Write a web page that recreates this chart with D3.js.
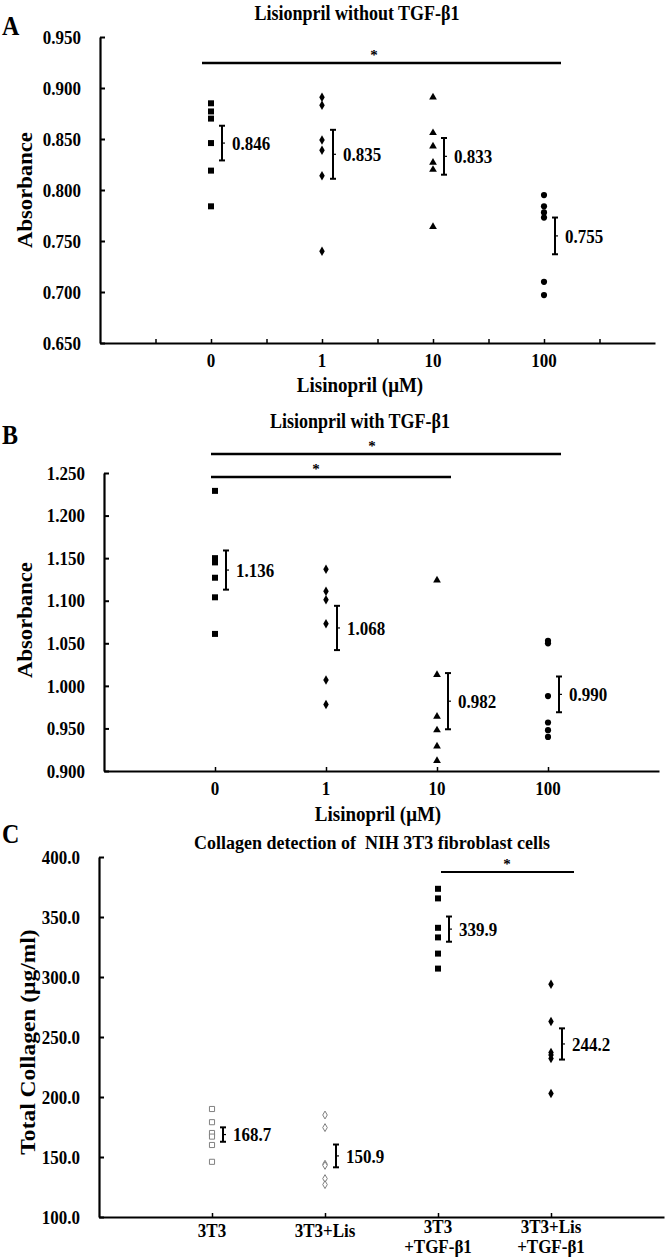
<!DOCTYPE html>
<html>
<head>
<meta charset="utf-8">
<script src="https://cdn.jsdelivr.net/npm/d3@7/dist/d3.min.js"></script>
<style>
  body { margin: 0; background: #fff; }
  text { font-family: "Liberation Serif", "Times New Roman", serif; font-weight: bold; fill: #000; }
</style>
</head>
<body>
<svg id="fig" width="666" height="1259"></svg>
<script>
// ---- data ----
const doseLabels = ["0", "1", "10", "100"];

const aPoints = [
  [0.885, 0.877, 0.870, 0.846, 0.819, 0.784],
  [0.891, 0.883, 0.849, 0.839, 0.814, 0.740],
  [0.891, 0.856, 0.843, 0.827, 0.820, 0.764],
  [0.795, 0.784, 0.778, 0.773, 0.710, 0.697]
];
const aMeans = [0.846, 0.835, 0.833, 0.755];
const aSem = [0.017, 0.024, 0.018, 0.018];
const aTicks = [0.65, 0.70, 0.75, 0.80, 0.85, 0.90, 0.95];

const bPoints = [
  [1.229, 1.150, 1.145, 1.127, 1.104, 1.061],
  [1.137, 1.111, 1.101, 1.073, 1.007, 0.978],
  [1.124, 1.013, 0.964, 0.948, 0.929, 0.912],
  [1.053, 1.050, 0.988, 0.957, 0.948, 0.940]
];
const bMeans = [1.136, 1.068, 0.982, 0.990];
const bSem = [0.023, 0.026, 0.033, 0.021];
const bTicks = [0.90, 0.95, 1.00, 1.05, 1.10, 1.15, 1.20, 1.25];

const cGroups = [["3T3"], ["3T3+Lis"], ["3T3", "+TGF-β1"], ["3T3+Lis", "+TGF-β1"]];
const cPoints = [
  [190, 179, 170, 167, 160, 146],
  [185, 174.5, 144, 143, 132, 127],
  [373.5, 365.5, 341, 333, 319.5, 307],
  [294, 263, 237, 235, 232, 203]
];
const cMeans = [168.7, 150.9, 339.9, 244.2];
const cSem = [6, 9.5, 10.5, 13];
const cTicks = [100, 150, 200, 250, 300, 350, 400];

const svg = d3.select("#fig");

// stretched text, like the original figure
function label(g, x, y, s, size, anchor = "middle", sy = 1.15) {
  return g.append("text")
    .attr("transform", `translate(${x},${y}) scale(1,${sy})`)
    .attr("text-anchor", anchor)
    .attr("dy", "0.35em")
    .style("font-size", size + "px")
    .style("white-space", "pre")
    .text(s);
}

function vlabel(g, x, y, s, size, sx) {
  return g.append("text")
    .attr("transform", `translate(${x},${y}) rotate(-90) scale(${sx},1)`)
    .attr("text-anchor", "middle").attr("dy", "0.35em")
    .style("font-size", size + "px").text(s);
}

function marker(kind, open) {
  if (kind === "circle") return d3.symbol(d3.symbolCircle, 30)();
  if (kind === "triangle") return d3.symbol(d3.symbolTriangle, 26)();
  if (kind === "diamond") return d3.symbol(d3.symbolDiamond, open ? 18 : 26)();
  return d3.symbol(d3.symbolSquare, open ? 26 : 36)();
}

function yAxis(g, y, ticks, fmt, x0) {
  const ax = g.append("g")
    .attr("transform", `translate(${x0},0)`)
    .call(d3.axisLeft(y).tickValues(ticks).tickFormat(d3.format(fmt))
      .tickSizeInner(-5).tickSizeOuter(0).tickPadding(19));
  ax.select(".domain").attr("stroke-width", 2.2);
  ax.selectAll(".tick line").attr("stroke-width", 2);
  ax.selectAll(".tick text").style("font-size", "17px").attr("font-family", null)
    .attr("transform", "scale(1,1.15)");
}

function xAxis(g, x, y0, minor) {
  const ax = g.append("g")
    .attr("transform", `translate(0,${y0})`)
    .call(d3.axisBottom(x).tickValues(minor).tickFormat("")
      .tickSizeInner(-4).tickSizeOuter(0));
  ax.select(".domain").attr("stroke-width", 2.2);
  ax.selectAll(".tick line").attr("stroke-width", 1.5);
}

function dots(g, x, y, points, kinds, open) {
  points.forEach((vals, i) => {
    g.selectAll(null).data(vals).join("path")
      .attr("d", marker(kinds[i], open[i]))
      .attr("transform", d => `translate(${x(i + 1)},${y(d)})`)
      .attr("fill", open[i] ? "#fff" : "#000")
      .attr("stroke", open[i] ? "#808080" : "none")
      .attr("stroke-width", 1);
  });
}

function errorBars(g, x, y, means, sem, fmt) {
  means.forEach((m, i) => {
    const bx = x(i + 1) + 11;
    const e = g.append("g").attr("stroke", "#000");
    e.append("line").attr("x1", bx).attr("x2", bx)
      .attr("y1", y(m + sem[i])).attr("y2", y(m - sem[i])).attr("stroke-width", 2);
    [m + sem[i], m - sem[i]].forEach(v => e.append("line")
      .attr("x1", bx - 3).attr("x2", bx + 3).attr("y1", y(v)).attr("y2", y(v))
      .attr("stroke-width", 2));
    e.append("line").attr("x1", bx - 1).attr("x2", bx + 3)
      .attr("y1", y(m)).attr("y2", y(m)).attr("stroke-width", 1.2);
    label(g, x(i + 1) + 21, y(m), d3.format(fmt)(m), 17, "start");
  });
}

function sigBar(g, x1, x2, y0, sx, w) {
  g.append("line").attr("x1", x1).attr("x2", x2).attr("y1", y0).attr("y2", y0)
    .attr("stroke", "#000").attr("stroke-width", w);
  label(g, sx, y0 - 8, "*", 15, "middle", 1);
}

// ---- panel A ----
{
  const g = svg.append("g");
  const x = d3.scaleLinear().domain([0, 5]).range([100, 655]);
  const y = d3.scaleLinear().domain([0.65, 0.95]).range([343, 37]);
  label(g, 2, 25, "A", 24, "start");
  label(g, 357, 13, "Lisionpril without TGF-β1", 18);
  yAxis(g, y, aTicks, ".3f", 100);
  xAxis(g, x, 343, [0.5, 1, 1.5, 2, 2.5, 3, 3.5, 4, 4.5]);
  doseLabels.forEach((t, i) => label(g, x(i + 1), 360, t, 17, "middle", 1.1));
  label(g, 360, 384, "Lisinopril (μM)", 19);
  vlabel(g, 25, 190, "Absorbance", 21, 1.08);
  sigBar(g, x(1) - 9, x(4) + 17, 63, 374, 2.6);
  dots(g, x, y, aPoints, ["square", "diamond", "triangle", "circle"], [0, 0, 0, 0]);
  errorBars(g, x, y, aMeans, aSem, ".3f");
}

// ---- panel B ----
{
  const g = svg.append("g");
  const x = d3.scaleLinear().domain([0, 5]).range([104, 659]);
  const y = d3.scaleLinear().domain([0.90, 1.25]).range([771, 473]);
  label(g, 2, 434, "B", 24, "start");
  label(g, 360, 421, "Lisionpril with TGF-β1", 18);
  yAxis(g, y, bTicks, ".3f", 104);
  xAxis(g, x, 771, [1, 2, 3, 4]);
  doseLabels.forEach((t, i) => label(g, x(i + 1), 788, t, 17, "middle", 1.1));
  label(g, 378, 813, "Lisinopril (μM)", 19);
  vlabel(g, 25, 620, "Absorbance", 21, 1.08);
  sigBar(g, x(1) - 4, x(4) + 13, 454, 372, 2.6);
  sigBar(g, x(1) - 4, x(3) + 14, 477, 316, 2.6);
  dots(g, x, y, bPoints, ["square", "diamond", "triangle", "circle"], [0, 0, 0, 0]);
  errorBars(g, x, y, bMeans, bSem, ".3f");
}

// ---- panel C ----
{
  const g = svg.append("g");
  const x = d3.scaleLinear().domain([0, 5]).range([99, 664]);
  const y = d3.scaleLinear().domain([100, 400]).range([1217, 857]);
  label(g, 2, 833, "C", 24, "start");
  label(g, 372, 842, "Collagen detection of  NIH 3T3 fibroblast cells", 18, "middle", 1.05);
  yAxis(g, y, cTicks, ".1f", 99);
  xAxis(g, x, 1217, [1, 2, 3, 4]);
  cGroups.forEach((lines, i) => {
    if (lines.length === 1) label(g, x(i + 1), 1231, lines[0], 17, "middle", 1.05);
    else lines.forEach((t, j) => label(g, x(i + 1), 1227 + j * 20, t, 17, "middle", 1.05));
  });
  vlabel(g, 28, 1042, "Total Collagen (μg/ml)", 21, 1.12);
  sigBar(g, x(3) + 3, x(4) + 23, 872, 507, 1.8);
  dots(g, x, y, cPoints, ["square", "diamond", "square", "diamond"], [1, 1, 0, 0]);
  errorBars(g, x, y, cMeans, cSem, ".1f");
}
</script>
</body>
</html>
